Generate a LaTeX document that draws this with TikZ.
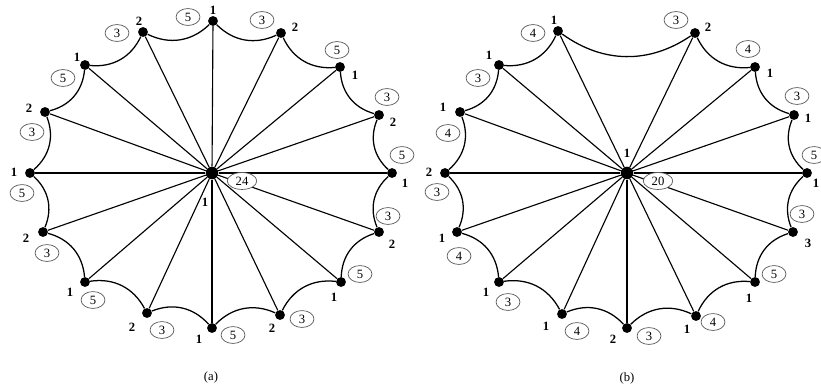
\documentclass[tikz,border=0pt]{standalone}
\usepackage{fontspec}
\setmainfont{Liberation Serif}
\usepackage{tikz}
\usetikzlibrary{shapes.geometric, positioning}

\tikzset{
    vtx/.style={circle, fill=black, inner sep=0pt, minimum size=7pt},
    hubvtx/.style={circle, fill=black, inner sep=0pt, minimum size=9pt},
    vlab/.style={font=\bfseries\small, inner sep=1pt},
    wlab/.style={ellipse, draw=black!65, line width=0.5pt, fill=white, inner sep=0.6pt,
                 minimum width=17pt, minimum height=12pt, font=\small},
    spoke/.style={line width=0.8pt},
    rim/.style={line width=0.9pt, bend right=35},
    caption/.style={font=\small}
}

\begin{document}
\begin{tikzpicture}[x=0.025cm, y=-0.025cm]
    \useasboundingbox (0,0) rectangle (821,390);

    % ---------- (a) ----------
    \node[hubvtx] (a0) at (212,173) {};
    \foreach \n/\x/\y in {1/213/21, 2/281/33, 3/340/67, 4/379/115, 5/392/173, 6/379/232,
                          7/341/282, 8/280/315, 9/212/328, 10/147/313, 11/85/282, 12/43/232,
                          13/30/173, 14/45/112, 15/85/65, 16/143/32}
        \node[vtx] (a\n) at (\x,\y) {};
    \foreach \n in {1,...,16}
        \draw[spoke] (a0) -- (a\n);
    \foreach \n [remember=\n as \m (initially 16)] in {1,...,16}
        \draw[rim] (a\m) to (a\n);

    % vertex labels
    \node[vlab] (al0) at (205,202) {1};
    \foreach \n/\x/\y/\t in {1/213/10/1, 2/295/27/2, 3/355/75/1, 4/393/122/2, 5/405/183/1,
                             6/392/244/2, 7/334/297/1, 8/272/328/2, 9/199/339/1, 10/132/327/2,
                             11/70/292/1, 12/26/238/2, 13/14/172/1, 14/29/108/2, 15/77/57/1,
                             16/139/21/2}
        \node[vlab] (al\n) at (\x,\y) {\t};

    % edge labels
    \node[wlab, minimum width=21pt] (aw0) at (242,181) {24};
    \foreach \n/\x/\y/\t in {1/262/20/3, 2/337/50/5, 3/387/97/3, 4/402/155/5, 5/388/216/3,
                             6/360/274/5, 7/302/319/3, 8/233/335/5, 9/162/330/3, 10/93/300/5,
                             11/47/253/3, 12/22/193/5, 13/32/132/3, 14/63/78/5, 15/117/33/3,
                             16/188/17/5}
        \node[wlab] (aw\n) at (\x,\y) {\t};

    \node[caption] (capa) at (211,377) {(a)};

    % ---------- (b) ----------
    \node[hubvtx] (b0) at (627,173) {};
    \foreach \n/\x/\y in {1/558/31, 2/695/33, 3/755/67, 4/794/115, 5/807/173, 6/793/232,
                          7/755/282, 8/696/316, 9/627/328, 10/562/314, 11/499/282, 12/457/232,
                          13/445/173, 14/460/112, 15/499/65}
        \node[vtx] (b\n) at (\x,\y) {};
    \foreach \n in {1,...,15}
        \draw[spoke] (b0) -- (b\n);
    \foreach \n [remember=\n as \m (initially 15)] in {1,...,15}
        \draw[rim] (b\m) to (b\n);

    % vertex labels
    \node[vlab] (bl0) at (627,153) {1};
    \foreach \n/\x/\y/\t in {1/554/20/1, 2/708/27/2, 3/770/73/1, 4/808/118/1, 5/816/183/1,
                             6/808/243/3, 7/749/298/1, 8/687/329/1, 9/613/339/2, 10/546/326/1,
                             11/486/292/1, 12/442/238/1, 13/429/172/2, 14/443/107/1, 15/489/55/1}
        \node[vlab] (bl\n) at (\x,\y) {\t};

    % edge labels
    \node[wlab, minimum width=21pt] (bw0) at (658,181) {20};
    \foreach \n/\x/\y/\t in {1/676/20/3, 2/748/49/4, 3/797/96/3, 4/814/155/5, 5/802/214/3,
                             6/774/274/5, 7/713/322/4, 8/649/336/3, 9/577/331/4, 10/508/302/3,
                             11/459/256/4, 12/437/192/3, 13/448/133/4, 14/478/78/3, 15/533/33/4}
        \node[wlab] (bw\n) at (\x,\y) {\t};

    \node[caption] (capb) at (627,378) {(b)};
\end{tikzpicture}
\end{document}
